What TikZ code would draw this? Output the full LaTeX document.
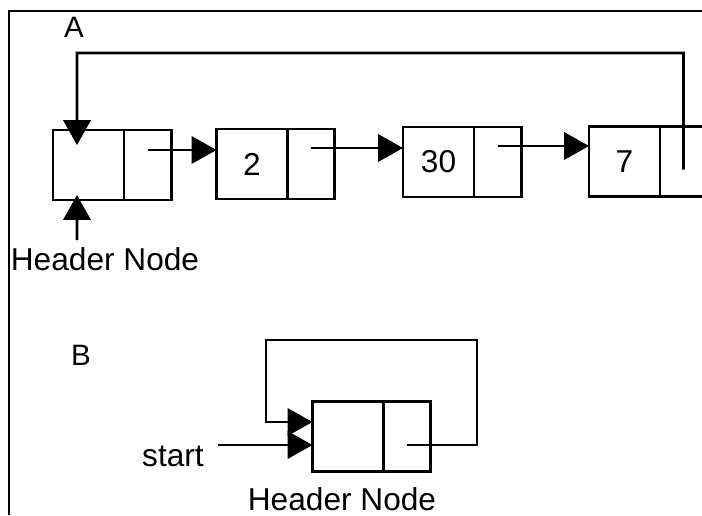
\documentclass[tikz,border=0pt]{standalone}
\usepackage{fontspec}
\setmainfont{Liberation Sans}
\usetikzlibrary{arrows.meta}

\begin{document}
\begin{tikzpicture}[
    x=0.025cm,y=-0.025cm,
    every node/.style={font=\fontsize{22.5}{27}\selectfont,inner sep=0pt,outer sep=0pt},
    datacell/.style={draw,line width=2.1pt,minimum width=1.775cm,minimum height=1.75cm},
    ptrcell/.style={draw,line width=2.1pt,minimum width=1.175cm,minimum height=1.75cm},
    tag/.style={font=\fontsize{21}{25}\selectfont},
    flow/.style={-{Triangle[length=0.62cm,width=0.68cm]},line width=1.9pt},
    frame/.style={line width=2pt}
]
\clip (0,0) rectangle (702,515);
\draw[frame] (9,515) -- (9,11) -- (702,11);

% A: circular list with header node
\node[tag] (labA) at (74,27) {A};
\node[datacell] (hd) at (88.5,165) {};
\node[ptrcell,anchor=west] (hp) at (hd.east) {};
\node[datacell] (n2d) at (252,164) {2};
\node[ptrcell,anchor=west] (n2p) at (n2d.east) {};
\node[datacell] (n3d) at (438.5,162) {30};
\node[ptrcell,anchor=west] (n3p) at (n3d.east) {};
\node[datacell] (n7d) at (624.5,161.5) {7};
\node[ptrcell,anchor=west] (n7p) at (n7d.east) {};
\draw[flow] ([yshift=.375cm]hp.center) coordinate (a1) -- (a1 -| n2d.west);
\draw[flow] ([yshift=.4cm]n2p.center) coordinate (a2) -- (a2 -| n3d.west);
\draw[flow] ([yshift=.4cm]n3p.center) coordinate (a3) -- (a3 -| n7d.west);
\coordinate (topA) at (77,53);
\draw[flow] ([yshift=-.2cm]n7p.center) |- (topA) -- ([xshift=-.2875cm,yshift=-.375cm]hd.north);
\coordinate (hin) at (77,240);
\draw[flow] (hin) -- ([xshift=-.2875cm,yshift=.125cm]hd.south);
\node (hlabA) at (105,259) {Header Node};

% B: empty list, header points to itself
\node[tag] (labB) at (81,355) {B};
\node[datacell] (bd) at (348,436.5) {};
\node[ptrcell,anchor=west] (bp) at (bd.east) {};
\coordinate (loopR) at (477,340);
\coordinate (loopL) at (266,340);
\draw[flow] ([yshift=-.2125cm]bp.center) -| (loopR) -- (loopL) |- ([yshift=.3625cm]bd.west);
\node (startlbl) at (173,456) {start};
\coordinate (sb) at ([yshift=-.2125cm]bd.west);
\draw[flow] ([xshift=.35cm]startlbl.east |- sb) -- (sb);
\node (hlabB) at (342,499) {Header Node};
\end{tikzpicture}
\end{document}
